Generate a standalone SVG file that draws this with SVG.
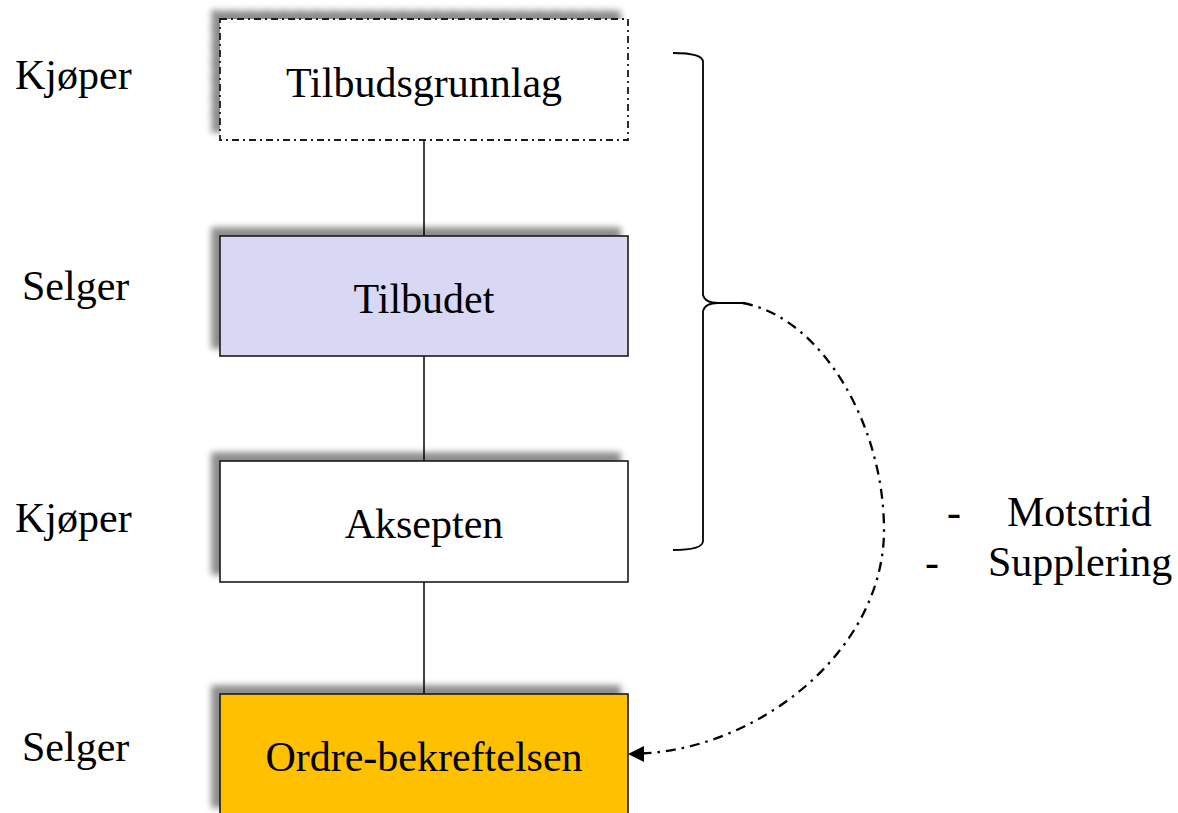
<svg xmlns="http://www.w3.org/2000/svg" width="1178" height="813" viewBox="0 0 1178 813">
<defs>
<filter id="sh" x="-10%" y="-20%" width="120%" height="140%">
<feGaussianBlur in="SourceAlpha" stdDeviation="3"/>
<feOffset dx="-8" dy="-8" result="b"/>
<feFlood flood-color="#000" flood-opacity="0.45"/>
<feComposite in2="b" operator="in" result="s"/>
<feMerge><feMergeNode in="s"/><feMergeNode in="SourceGraphic"/></feMerge>
</filter>
</defs>
<style>
.box{stroke:#1a1a1a;stroke-width:1.6}
.dash{stroke-dasharray:7,4,2,4;stroke-width:1.8}
.t{font-family:"Liberation Serif","Times New Roman",serif;font-size:42px;fill:#000}
.c{text-anchor:middle}
.ln{stroke:#000;stroke-width:1.5;fill:none}
.dd{stroke:#000;stroke-width:2.3;fill:none;stroke-dasharray:10,6,2.5,6}
</style>
<rect width="1178" height="813" fill="#fff"/>
<g id="connectors">
<line class="ln" x1="424" y1="140" x2="424" y2="236"/>
<line class="ln" x1="424" y1="356" x2="424" y2="461"/>
<line class="ln" x1="424" y1="582" x2="424" y2="694"/>
<path id="brace" class="ln" style="stroke-width:1.8" d="M673,53 Q703,53 703,62 L703,295 Q705,303 718,303 L743,303 M718,303 Q705,303 703,311 L703,541 Q703,550 673,550"/>
<path class="dd" d="M743,303 C822,318 884,425 884,530 C884,650 760,748 642,753.5"/>
<path d="M628,754 L644,746 L644,762 Z" fill="#000"/>
</g>
<g id="n-tilbudsgrunnlag">
<rect class="box dash" x="220" y="19" width="408" height="121" fill="#fff" filter="url(#sh)"/>
<text class="t c" x="424" y="97">Tilbudsgrunnlag</text>
</g>
<g id="n-tilbudet">
<rect class="box" x="220" y="236" width="408" height="120" fill="#D8D8F4" filter="url(#sh)"/>
<text class="t c" x="424" y="313">Tilbudet</text>
</g>
<g id="n-aksepten">
<rect class="box" x="220" y="461" width="408" height="121" fill="#fff" filter="url(#sh)"/>
<text class="t c" x="424" y="538">Aksepten</text>
</g>
<g id="n-ordre">
<rect class="box" x="220" y="694" width="408" height="121" fill="#FFC000" filter="url(#sh)"/>
<text class="t c" x="424" y="771">Ordre-bekreftelsen</text>
</g>
<g id="labels">
<text class="t" x="15" y="89">Kjøper</text>
<text class="t" x="22" y="300">Selger</text>
<text class="t" x="15" y="532">Kjøper</text>
<text class="t" x="22" y="761">Selger</text>
<text class="t" x="947" y="526">-</text>
<text class="t" x="1007" y="526">Motstrid</text>
<text class="t" x="925" y="576">-</text>
<text class="t" x="988" y="576">Supplering</text>
</g>
</svg>
